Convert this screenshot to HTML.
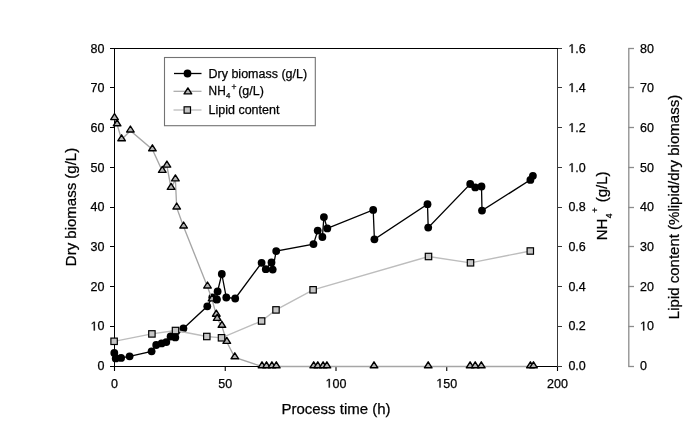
<!DOCTYPE html>
<html><head><meta charset="utf-8"><style>
html,body{margin:0;padding:0;background:#fff;width:685px;height:422px;overflow:hidden}
svg{display:block;will-change:transform}
text{font-family:"Liberation Sans",sans-serif;fill:#000;stroke:#000;stroke-width:0.25px}
.h1{fill:none;stroke:none}
</style></head><body>
<svg width="685" height="422" viewBox="0 0 685 422">
<rect width="685" height="422" fill="#fff"/>

<g stroke="#000" stroke-width="1" fill="none" shape-rendering="crispEdges">
<path d="M114.5,48V367"/>
<path d="M110,48.5H558"/>
<path d="M110,366.5H558"/>
<path d="M110,366.5H114.5"/>
<path d="M110,326.5H114.5"/>
<path d="M110,286.5H114.5"/>
<path d="M110,246.5H114.5"/>
<path d="M110,207.5H114.5"/>
<path d="M110,167.5H114.5"/>
<path d="M110,127.5H114.5"/>
<path d="M110,87.5H114.5"/>
<path d="M110,48.5H114.5"/>
</g>
<g stroke="#000" stroke-width="1.1" fill="none">
<path d="M225.25,367V371"/>
<path d="M336.0,367V371"/>
<path d="M446.75,367V371"/>
<path d="M114.5,367V371"/><path d="M557.5,367V371"/>
</g>
<g stroke="#383838" stroke-width="1" fill="none" shape-rendering="crispEdges">
<path d="M557.5,48.5V366.5"/>
<path d="M557.5,366.5H562"/>
<path d="M557.5,326.5H562"/>
<path d="M557.5,286.5H562"/>
<path d="M557.5,246.5H562"/>
<path d="M557.5,207.5H562"/>
<path d="M557.5,167.5H562"/>
<path d="M557.5,127.5H562"/>
<path d="M557.5,87.5H562"/>
<path d="M557.5,48.5H562"/>
</g>
<g stroke="#8c8c8c" stroke-width="1.3" fill="none">
<path d="M628.8,48.5V366.5"/>
<path d="M628.2,366.5H634"/>
<path d="M628.2,326.5H634"/>
<path d="M628.2,286.5H634"/>
<path d="M628.2,246.5H634"/>
<path d="M628.2,207.5H634"/>
<path d="M628.2,167.5H634"/>
<path d="M628.2,127.5H634"/>
<path d="M628.2,87.5H634"/>
<path d="M628.2,48.5H634"/>
</g>
<g font-size="12.5">
<text x="104.5" y="369.90" text-anchor="end">0</text>
<text x="568.4" y="369.90">0.0</text>
<text x="640" y="369.90">0</text>
<text x="104.5" y="330.40" text-anchor="end"><tspan class="h1">1</tspan>0</text>
<text x="568.4" y="330.40">0.2</text>
<text x="640" y="330.40"><tspan class="h1">1</tspan>0</text>
<text x="104.5" y="290.90" text-anchor="end">20</text>
<text x="568.4" y="290.90">0.4</text>
<text x="640" y="290.90">20</text>
<text x="104.5" y="250.90" text-anchor="end">30</text>
<text x="568.4" y="250.90">0.6</text>
<text x="640" y="250.90">30</text>
<text x="104.5" y="210.90" text-anchor="end">40</text>
<text x="568.4" y="210.90">0.8</text>
<text x="640" y="210.90">40</text>
<text x="104.5" y="171.90" text-anchor="end">50</text>
<text x="568.4" y="171.90"><tspan class="h1">1</tspan>.0</text>
<text x="640" y="171.90">50</text>
<text x="104.5" y="131.90" text-anchor="end">60</text>
<text x="568.4" y="131.90"><tspan class="h1">1</tspan>.2</text>
<text x="640" y="131.90">60</text>
<text x="104.5" y="91.90" text-anchor="end">70</text>
<text x="568.4" y="91.90"><tspan class="h1">1</tspan>.4</text>
<text x="640" y="91.90">70</text>
<text x="104.5" y="52.90" text-anchor="end">80</text>
<text x="568.4" y="52.90"><tspan class="h1">1</tspan>.6</text>
<text x="640" y="52.90">80</text>
<text x="114.5" y="387.5" text-anchor="middle">0</text>
<text x="225.25" y="387.5" text-anchor="middle">50</text>
<text x="336.0" y="387.5" text-anchor="middle"><tspan class="h1">1</tspan>00</text>
<text x="446.75" y="387.5" text-anchor="middle"><tspan class="h1">1</tspan>50</text>
<text x="557.5" y="387.5" text-anchor="middle">200</text>
</g>
<text x="336" y="414" font-size="15" text-anchor="middle">Process time (h)</text>
<text transform="translate(76,207) rotate(-90)" font-size="15" text-anchor="middle">Dry biomass (g/L)</text>
<text transform="translate(678.5,207) rotate(-90)" font-size="15" text-anchor="middle">Lipid content (%lipid/dry biomass)</text>
<g transform="translate(607,240.3) rotate(-90)" font-size="15"><text x="0" y="0">NH</text><text x="22" y="5" font-size="8.5">4</text><text x="27.6" y="-9" font-size="9">+</text><text x="38" y="0">(g/L)</text></g>
<polyline points="114.3,353.0 115.7,358.4 121.1,357.9 129.6,356.3 151.6,351.3 156.2,345.0 161.6,343.4 166.3,342.1 170.6,336.5 175.3,337.4 183.4,328.4 207.3,306.3 212.3,297.3 216.6,299.4 217.6,291.4 221.8,274.0 226.3,297.5 235.2,298.5 261.6,262.8 265.8,269.2 271.5,262.5 272.7,269.6 276.2,251.1 313.5,244.1 317.7,230.6 322.4,237.0 323.9,217.1 327.3,228.4 373.2,209.9 374.4,239.3 427.5,204.2 428.2,227.6 470.2,184.0 475.2,187.4 481.5,186.5 482.0,210.6 530.4,179.9 532.9,175.8" fill="none" stroke="#000" stroke-width="1.3"/>
<g fill="#000"><circle cx="114.3" cy="353.0" r="3.9"/><circle cx="115.7" cy="358.4" r="3.9"/><circle cx="121.1" cy="357.9" r="3.9"/><circle cx="129.6" cy="356.3" r="3.9"/><circle cx="151.6" cy="351.3" r="3.9"/><circle cx="156.2" cy="345.0" r="3.9"/><circle cx="161.6" cy="343.4" r="3.9"/><circle cx="166.3" cy="342.1" r="3.9"/><circle cx="170.6" cy="336.5" r="3.9"/><circle cx="175.3" cy="337.4" r="3.9"/><circle cx="183.4" cy="328.4" r="3.9"/><circle cx="207.3" cy="306.3" r="3.9"/><circle cx="212.3" cy="297.3" r="3.9"/><circle cx="216.6" cy="299.4" r="3.9"/><circle cx="217.6" cy="291.4" r="3.9"/><circle cx="221.8" cy="274.0" r="3.9"/><circle cx="226.3" cy="297.5" r="3.9"/><circle cx="235.2" cy="298.5" r="3.9"/><circle cx="261.6" cy="262.8" r="3.9"/><circle cx="265.8" cy="269.2" r="3.9"/><circle cx="271.5" cy="262.5" r="3.9"/><circle cx="272.7" cy="269.6" r="3.9"/><circle cx="276.2" cy="251.1" r="3.9"/><circle cx="313.5" cy="244.1" r="3.9"/><circle cx="317.7" cy="230.6" r="3.9"/><circle cx="322.4" cy="237.0" r="3.9"/><circle cx="323.9" cy="217.1" r="3.9"/><circle cx="327.3" cy="228.4" r="3.9"/><circle cx="373.2" cy="209.9" r="3.9"/><circle cx="374.4" cy="239.3" r="3.9"/><circle cx="427.5" cy="204.2" r="3.9"/><circle cx="428.2" cy="227.6" r="3.9"/><circle cx="470.2" cy="184.0" r="3.9"/><circle cx="475.2" cy="187.4" r="3.9"/><circle cx="481.5" cy="186.5" r="3.9"/><circle cx="482.0" cy="210.6" r="3.9"/><circle cx="530.4" cy="179.9" r="3.9"/><circle cx="532.9" cy="175.8" r="3.9"/></g>
<polyline points="114.5,118.3 117.1,124.5 121.6,139.5 130.4,130.7 152.4,149.5 162.3,171.1 166.9,165.8 171.1,188.1 175.4,179.6 176.7,207.7 183.6,226.7 207.5,286.7 212.1,299.6 216.3,314.9 217.2,319.1 221.9,326.0 226.8,342.1 234.8,357.5 262.0,366.5 266.5,366.5 271.9,366.5 276.3,366.5 313.7,366.5 317.8,366.5 323.1,366.5 326.9,366.5 374.0,366.5 428.2,366.5 470.1,366.5 475.2,366.5 481.3,366.5 530.4,366.5 533.5,366.5" fill="none" stroke="#a6a6a6" stroke-width="1.35"/>
<g fill="#b4b4b4" stroke="#000" stroke-width="1.4" stroke-linejoin="round"><path d="M114.5,113.6L118.3,119.6L110.7,119.6Z"/><path d="M117.1,119.8L120.9,125.8L113.3,125.8Z"/><path d="M121.6,134.8L125.4,140.8L117.8,140.8Z"/><path d="M130.4,126.0L134.2,132.0L126.6,132.0Z"/><path d="M152.4,144.8L156.2,150.8L148.6,150.8Z"/><path d="M162.3,166.4L166.1,172.4L158.5,172.4Z"/><path d="M166.9,161.1L170.7,167.1L163.1,167.1Z"/><path d="M171.1,183.4L174.9,189.4L167.3,189.4Z"/><path d="M175.4,174.9L179.2,180.9L171.6,180.9Z"/><path d="M176.7,203.0L180.5,209.0L172.9,209.0Z"/><path d="M183.6,222.0L187.4,228.0L179.8,228.0Z"/><path d="M207.5,282.0L211.3,288.0L203.7,288.0Z"/><path d="M212.1,294.9L215.9,300.9L208.3,300.9Z"/><path d="M216.3,310.2L220.1,316.2L212.5,316.2Z"/><path d="M217.2,314.4L221.0,320.4L213.4,320.4Z"/><path d="M221.9,321.3L225.7,327.3L218.1,327.3Z"/><path d="M226.8,337.4L230.6,343.4L223.0,343.4Z"/><path d="M234.8,352.8L238.6,358.8L231.0,358.8Z"/><path d="M262.0,361.8L265.8,367.8L258.2,367.8Z"/><path d="M266.5,361.8L270.3,367.8L262.7,367.8Z"/><path d="M271.9,361.8L275.7,367.8L268.1,367.8Z"/><path d="M276.3,361.8L280.1,367.8L272.5,367.8Z"/><path d="M313.7,361.8L317.5,367.8L309.9,367.8Z"/><path d="M317.8,361.8L321.6,367.8L314.0,367.8Z"/><path d="M323.1,361.8L326.9,367.8L319.3,367.8Z"/><path d="M326.9,361.8L330.7,367.8L323.1,367.8Z"/><path d="M374.0,361.8L377.8,367.8L370.2,367.8Z"/><path d="M428.2,361.8L432.0,367.8L424.4,367.8Z"/><path d="M470.1,361.8L473.9,367.8L466.3,367.8Z"/><path d="M475.2,361.8L479.0,367.8L471.4,367.8Z"/><path d="M481.3,361.8L485.1,367.8L477.5,367.8Z"/><path d="M530.4,361.8L534.2,367.8L526.6,367.8Z"/><path d="M533.5,361.8L537.3,367.8L529.7,367.8Z"/></g>
<circle cx="216.8" cy="299.4" r="3.9" fill="#000"/>
<polyline points="114.1,341.3 151.9,333.9 175.5,330.5 206.8,336.5 221.5,337.8 261.6,321.0 276.0,309.9 313.1,289.8 428.5,256.5 470.5,262.8 530.3,251.0" fill="none" stroke="#bdbdbd" stroke-width="1.35"/>
<g fill="#c6c6c6" stroke="#000" stroke-width="1.2"><rect x="110.9" y="338.1" width="6.4" height="6.4"/><rect x="148.7" y="330.7" width="6.4" height="6.4"/><rect x="172.3" y="327.3" width="6.4" height="6.4"/><rect x="203.6" y="333.3" width="6.4" height="6.4"/><rect x="218.3" y="334.6" width="6.4" height="6.4"/><rect x="258.4" y="317.8" width="6.4" height="6.4"/><rect x="272.8" y="306.7" width="6.4" height="6.4"/><rect x="309.9" y="286.6" width="6.4" height="6.4"/><rect x="425.3" y="253.3" width="6.4" height="6.4"/><rect x="467.3" y="259.6" width="6.4" height="6.4"/><rect x="527.1" y="247.8" width="6.4" height="6.4"/></g>
<rect x="164.5" y="57.5" width="150.8" height="68.2" fill="#fff" stroke="#737373" stroke-width="1.1"/>
<path d="M174,73.5H201.5" stroke="#000" stroke-width="1.3"/>
<circle cx="187.5" cy="73.5" r="3.9" fill="#000"/>
<path d="M173.5,91.3H201.5" stroke="#a6a6a6" stroke-width="1.2"/>
<g fill="#b4b4b4" stroke="#000" stroke-width="1.4" stroke-linejoin="round"><path d="M187.9,87.9L191.7,93.9L184.1,93.9Z"/></g>
<path d="M173.5,110H201.5" stroke="#bdbdbd" stroke-width="1.3"/>
<g fill="#c6c6c6" stroke="#000" stroke-width="1.2"><rect x="184.1" y="106.8" width="6.4" height="6.4"/></g>
<g font-size="12.5">
<text x="208.5" y="77.7">Dry biomass (g/L)</text>
<text x="208.6" y="94.6" transform="translate(208.6,0) scale(0.95,1) translate(-208.6,0)">NH</text>
<text x="225.9" y="98.4" font-size="7.8">4</text>
<text x="231.4" y="90.2" font-size="8.5">+</text>
<text x="238.2" y="94.6">(g/L)</text>
<text x="208.5" y="113.6">Lipid content</text>
</g>
<path fill="#000" stroke="#000" stroke-width="0.25" d="M93.74,330.40L93.74,322.85L91.80,324.24L91.80,323.20L93.83,321.80L94.84,321.80L94.84,330.40ZM643.14,330.40L643.14,322.85L641.20,324.24L641.20,323.20L643.23,321.80L644.25,321.80L644.25,330.40ZM571.54,171.90L571.54,164.35L569.60,165.74L569.60,164.70L571.63,163.30L572.65,163.30L572.65,171.90ZM571.54,131.90L571.54,124.35L569.60,125.74L569.60,124.70L571.63,123.30L572.65,123.30L572.65,131.90ZM571.54,91.90L571.54,84.35L569.60,85.74L569.60,84.70L571.63,83.30L572.65,83.30L572.65,91.90ZM571.54,52.90L571.54,45.35L569.60,46.74L569.60,45.70L571.63,44.30L572.65,44.30L572.65,52.90ZM328.71,387.50L328.71,379.95L326.77,381.34L326.77,380.30L328.81,378.90L329.82,378.90L329.82,387.50ZM439.46,387.50L439.46,379.95L437.52,381.34L437.52,380.30L439.56,378.90L440.57,378.90L440.57,387.50Z"/>
</svg></body></html>
